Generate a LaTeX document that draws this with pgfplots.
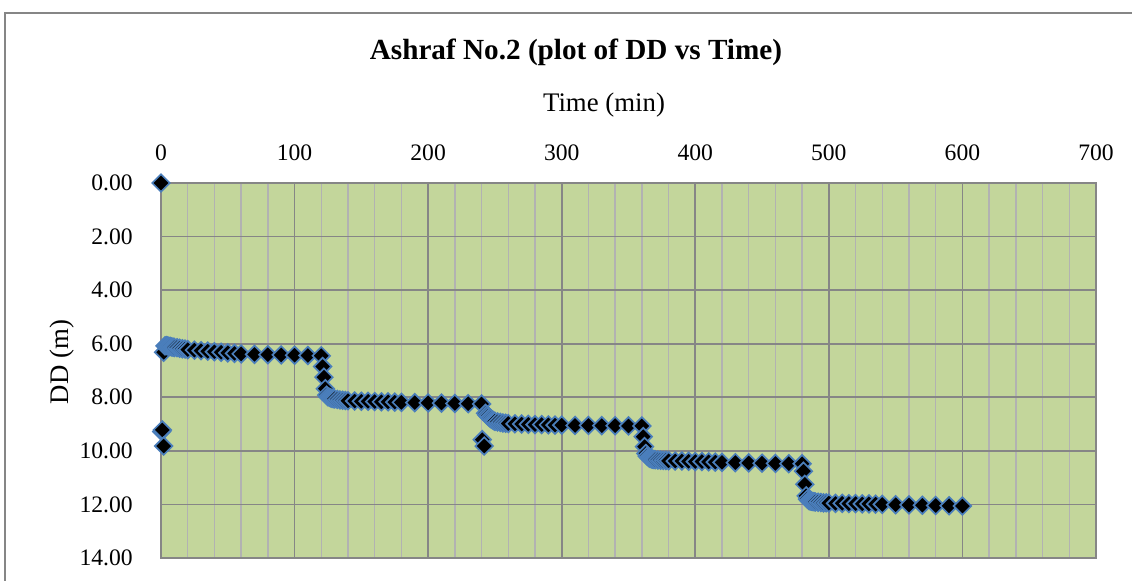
\documentclass[border=0pt]{standalone}
\usepackage{fontspec}
\setmainfont{Liberation Serif}
\usepackage{pgfplots}
\pgfplotsset{compat=1.18}

\definecolor{plotgreen}{RGB}{195,214,155}
\definecolor{majorgray}{RGB}{134,134,134}
\definecolor{minorgray}{RGB}{178,178,178}
\definecolor{markblue}{RGB}{74,126,187}

% drawdown (m) against time (min), step test
\pgfplotstableread{
t DD
0 0.00
0.5 9.28
1 9.22
2 9.82
2 6.32
3 6.08
4 6.07
5 6.08
6 6.10
7 6.10
8 6.12
9 6.13
10 6.14
12 6.15
14 6.17
16 6.19
18 6.20
20 6.22
25 6.24
30 6.26
35 6.28
40 6.30
45 6.32
50 6.34
55 6.36
60 6.38
70 6.40
80 6.41
90 6.42
100 6.43
110 6.44
120 6.45
121 6.85
122 7.25
123 7.68
124 7.92
125 7.98
126 8.00
127 8.02
128 8.04
129 8.05
130 8.06
132 8.08
134 8.10
136 8.11
138 8.12
140 8.13
145 8.14
150 8.15
155 8.15
160 8.16
165 8.17
170 8.17
175 8.18
180 8.19
190 8.20
200 8.21
210 8.22
220 8.23
230 8.24
240 8.25
240.5 9.58
242 9.82
243 8.60
244 8.66
245 8.71
246 8.76
247 8.80
248 8.84
249 8.87
250 8.90
252 8.92
254 8.94
256 8.96
258 8.97
260 8.98
265 8.99
270 9.00
275 9.01
280 9.02
285 9.02
290 9.03
295 9.04
300 9.04
310 9.05
320 9.05
330 9.06
340 9.06
350 9.07
360 9.07
361 9.47
362 9.84
363 10.10
364 10.20
365 10.25
366 10.28
367 10.30
368 10.31
369 10.32
370 10.33
372 10.34
374 10.35
376 10.36
378 10.36
380 10.37
385 10.38
390 10.38
395 10.39
400 10.40
405 10.40
410 10.41
415 10.42
420 10.43
430 10.44
440 10.45
450 10.46
460 10.47
470 10.48
480 10.48
481 10.76
482 11.25
483 11.68
484 11.80
485 11.85
486 11.87
487 11.88
488 11.89
489 11.90
490 11.91
492 11.92
494 11.93
496 11.94
498 11.94
500 11.95
505 11.96
510 11.96
515 11.97
520 11.97
525 11.98
530 11.98
535 11.99
540 12.00
550 12.01
560 12.02
570 12.03
580 12.04
590 12.05
600 12.06
}\ddtable

\begin{document}
\begin{tikzpicture}
\useasboundingbox (0,0) rectangle (566pt,-290.5pt);
% chart frame (only left and top edges fall inside the picture)
\draw[majorgray, line width=1pt] (2.5pt,-295pt) -- (2.5pt,-6.5pt) -- (570pt,-6.5pt);

\begin{axis}[
    at={(80.5pt,-91.5pt)}, anchor=north west,
    scale only axis,
    width=467.5pt, height=187.5pt,
    xmin=0, xmax=700,
    ymin=0, ymax=14,
    y dir=reverse,
    xtick={0,100,...,700},
    ytick={0,2,...,14},
    minor x tick num=4,
    xticklabel pos=upper,
    major tick length=0pt, minor tick length=0pt,
    xmajorgrids, ymajorgrids, xminorgrids,
    major grid style={majorgray, line width=0.9pt},
    minor grid style={minorgray, line width=0.7pt},
    axis line style={majorgray, line width=0.9pt},
    axis background/.style={fill=plotgreen},
    /pgf/number format/assume math mode=true,
    xticklabel style={font=\fontsize{11.8}{14}\selectfont, anchor=base, inner sep=0pt, yshift=11pt},
    yticklabel style={font=\fontsize{11.8}{14}\selectfont, anchor=east, inner sep=0pt, xshift=-14pt,
        /pgf/number format/.cd, fixed, fixed zerofill, precision=2},
    clip=false,
]
\addplot[only marks, mark=square*, mark size=3.1pt,
    mark options={rotate=45, fill=black, draw=markblue, line width=0.85pt}]
    table[x=t, y=DD] {\ddtable};
\end{axis}

\node[font=\bfseries\fontsize{14.6}{17}\selectfont] at (288pt,-26pt) {Ashraf No.2 (plot of DD vs Time)};
\node[font=\fontsize{13.4}{16}\selectfont] at (302pt,-52.5pt) {Time (min)};
\node[rotate=90, font=\fontsize{13.4}{16}\selectfont] at (31pt,-181pt) {DD (m)};
\end{tikzpicture}
\end{document}
